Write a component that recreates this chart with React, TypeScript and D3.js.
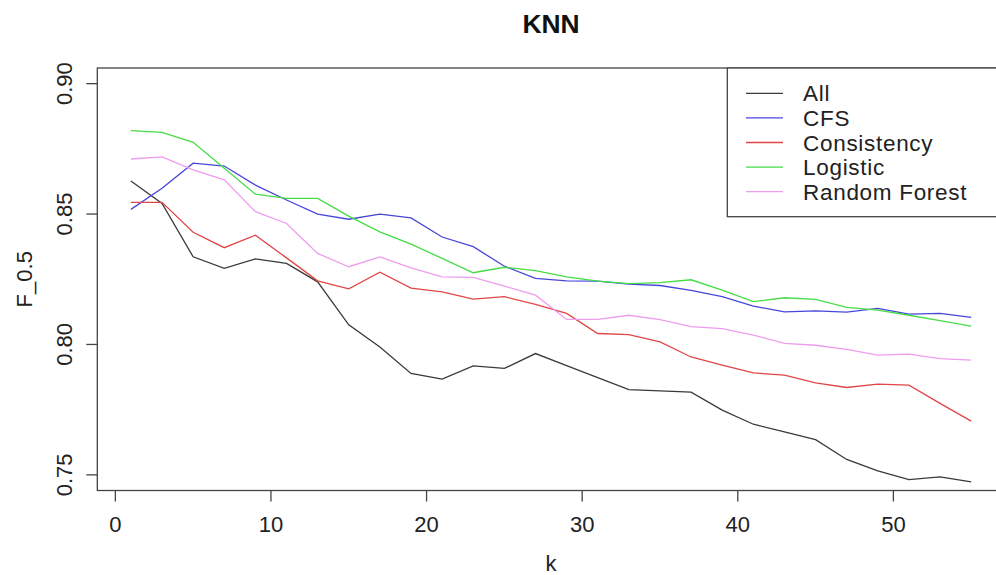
import React from "react";
import * as d3 from "d3";

// k values (odd neighbours 1..55)
const ks = [1, 3, 5, 7, 9, 11, 13, 15, 17, 19, 21, 23, 25, 27, 29, 31, 33, 35, 37, 39, 41, 43, 45, 47, 49, 51, 53, 55];

const allVals = [0.8627, 0.8541, 0.8336, 0.8292, 0.8328, 0.8311, 0.824, 0.8075, 0.799, 0.7889, 0.7867, 0.7918, 0.7908, 0.7965, 0.7919, 0.7873, 0.7827, 0.7822, 0.7817, 0.7748, 0.7694, 0.7665, 0.7635, 0.7559, 0.7515, 0.7482, 0.7492, 0.7473];
const cfsVals = [0.8518, 0.8599, 0.8695, 0.8684, 0.8611, 0.8554, 0.85, 0.848, 0.85, 0.8485, 0.8412, 0.8375, 0.83, 0.8253, 0.8244, 0.8243, 0.8231, 0.8226, 0.8207, 0.8183, 0.8147, 0.8125, 0.8129, 0.8124, 0.8138, 0.8116, 0.8119, 0.8104];
const consistencyVals = [0.8545, 0.8545, 0.843, 0.8371, 0.8419, 0.8332, 0.8244, 0.8213, 0.8277, 0.8216, 0.8202, 0.8174, 0.8183, 0.8154, 0.8119, 0.8042, 0.8038, 0.801, 0.7952, 0.7921, 0.7891, 0.7882, 0.7853, 0.7835, 0.7848, 0.7844, 0.7774, 0.7706];
const logisticVals = [0.882, 0.8813, 0.8775, 0.8676, 0.8576, 0.856, 0.856, 0.8492, 0.8432, 0.8385, 0.833, 0.8275, 0.8296, 0.8283, 0.8259, 0.8243, 0.8233, 0.8237, 0.8248, 0.8208, 0.8164, 0.8179, 0.8173, 0.8142, 0.8132, 0.8112, 0.8091, 0.807];
const rfVals = [0.8711, 0.8719, 0.8669, 0.8631, 0.8509, 0.8464, 0.8349, 0.8298, 0.8336, 0.8294, 0.8259, 0.8257, 0.8224, 0.8189, 0.8096, 0.8096, 0.8112, 0.8095, 0.8068, 0.8061, 0.8036, 0.8004, 0.7997, 0.7981, 0.7959, 0.7963, 0.7946, 0.794];

const seriesNames = ["All", "CFS", "Consistency", "Logistic", "Random Forest"];
const seriesColors = ["#3a3a3a", "#4646dc", "#e04646", "#46dc46", "#ee9cee"];
const seriesValues = [allVals, cfsVals, consistencyVals, logisticVals, rfVals];

const xTicks = [0, 10, 20, 30, 40, 50];
const yTicks = [0.75, 0.8, 0.85, 0.9];

const W = 996;
const H = 575;
// plot region (R style, right side runs off the picture)
const plot = { left: 97.3, right: 1004.8, top: 68, bottom: 490.5 };
const font = "'Liberation Sans', Arial, Helvetica, sans-serif";

export default function App() {
  const x = d3.scaleLinear().domain([-1.16, 57.16]).range([plot.left, plot.right]);
  const y = d3.scaleLinear().domain([0.744, 0.906]).range([plot.bottom, plot.top]);

  const line = d3
    .line<number>()
    .x((_, i) => x(ks[i]))
    .y((d) => y(d));

  const axisColor = "#444";

  return (
    <svg
      width={W}
      height={H}
      style={{ position: "absolute", left: 0, top: 0, background: "#fff" }}
      fontFamily={font}
    >
      <rect width={W} height={H} fill="#fff" />

      {/* series */}
      {seriesValues.map((vals, i) => (
        <path key={seriesNames[i]} d={line(vals) || ""} fill="none" stroke={seriesColors[i]} strokeWidth={1.3} />
      ))}

      {/* plot box */}
      <rect
        x={plot.left}
        y={plot.top}
        width={plot.right - plot.left}
        height={plot.bottom - plot.top}
        fill="none"
        stroke={axisColor}
        strokeWidth={1.3}
      />

      {/* x axis */}
      {xTicks.map((t) => (
        <g key={t}>
          <line x1={x(t)} x2={x(t)} y1={plot.bottom} y2={plot.bottom + 11} stroke={axisColor} strokeWidth={1.3} />
          <text x={x(t)} y={532} textAnchor="middle" fontSize={22} fill="#222">
            {t}
          </text>
        </g>
      ))}

      {/* y axis */}
      {yTicks.map((t) => (
        <g key={t}>
          <line x1={plot.left - 11} x2={plot.left} y1={y(t)} y2={y(t)} stroke={axisColor} strokeWidth={1.3} />
          <text
            transform={`translate(71.5,${y(t)}) rotate(-90)`}
            textAnchor="middle"
            fontSize={22}
            fill="#222"
          >
            {d3.format(".2f")(t)}
          </text>
        </g>
      ))}

      {/* titles */}
      <text x={(plot.left + plot.right) / 2} y={33} textAnchor="middle" fontSize={26.4} fontWeight="bold" fill="#111">
        KNN
      </text>
      <text x={(plot.left + plot.right) / 2} y={571} textAnchor="middle" fontSize={22} fill="#222">
        k
      </text>
      <text
        transform={`translate(32.3,${(plot.top + plot.bottom) / 2}) rotate(-90)`}
        textAnchor="middle"
        fontSize={22}
        fill="#222"
      >
        F_0.5
      </text>

      {/* legend */}
      <g>
        <rect x={727.3} y={plot.top} width={plot.right - 727.3} height={216.7 - plot.top} fill="#fff" stroke={axisColor} strokeWidth={1.3} />
        {seriesNames.map((name, i) => {
          const ly = 93.3 + i * 24.6;
          return (
            <g key={name}>
              <line x1={746} x2={783} y1={ly} y2={ly} stroke={seriesColors[i]} strokeWidth={1.3} />
              <text x={803} y={ly + 8} fontSize={22.5} letterSpacing={0.7} fill="#222">
                {name}
              </text>
            </g>
          );
        })}
      </g>
    </svg>
  );
}
